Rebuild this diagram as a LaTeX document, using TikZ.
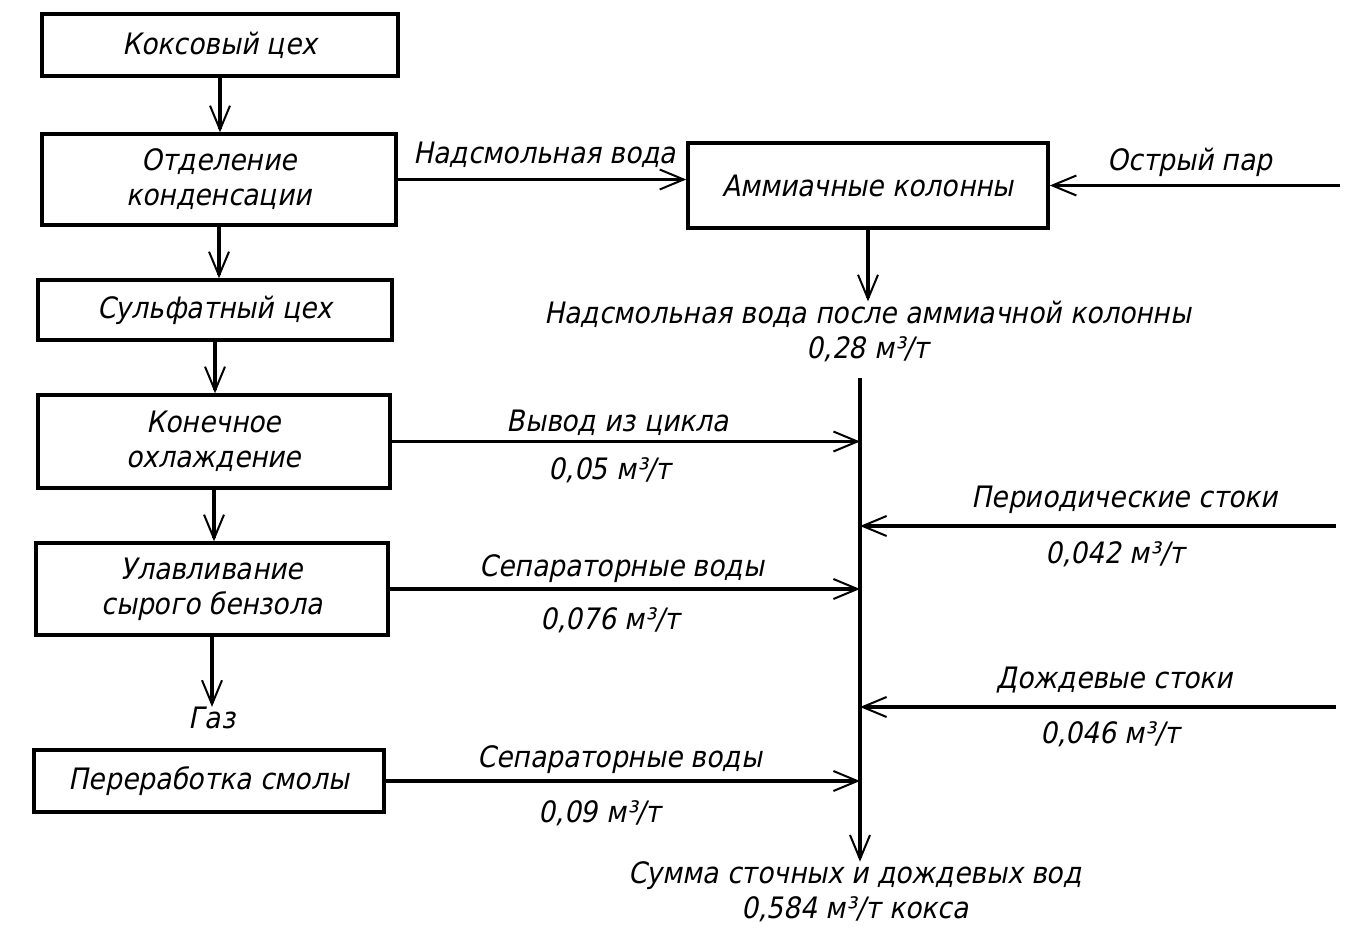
\documentclass[tikz,border=0pt]{standalone}
\usepackage{fontspec}
\setmainfont{DejaVu Sans Condensed}[FakeSlant=0.2]
\usetikzlibrary{arrows.meta}
\begin{document}
\begin{tikzpicture}[x=1pt,y=-1pt,
  every node/.style={font=\fontsize{29.5}{35}\selectfont, align=center, inner sep=0pt},
  box/.style={draw, line width=3.5pt, minimum width=#1},
  flow/.style={line width=3.5pt, -{Straight Barb[length=24pt,width=20pt,line width=2pt]}}]
\useasboundingbox (0,0) rectangle (1364,931);
% process boxes
\node[box=356pt, minimum height=62pt] (b1) at (220,45) {Коксовый цех};
\node[box=354pt, minimum height=91pt] (b2) at (219,179.5) {Отделение\\конденсации};
\node[box=354pt, minimum height=60pt] (b3) at (215,310) {Сульфатный цех};
\node[box=352pt, minimum height=93pt] (b4) at (214,441.5) {Конечное\\охлаждение};
\node[box=352pt, minimum height=92pt] (b5) at (212,589) {Улавливание\\сырого бензола};
\node (gas) at (212,718) {Газ};
\node[box=350pt, minimum height=62pt] (b6) at (209,781) {Переработка смолы};
\node[box=360pt, minimum height=85pt] (b7) at (868,185.5) {Аммиачные колонны};
% vertical chain
\draw[flow] (b1.south) -- (b1.south |- b2.north);
\draw[flow] (b2.south) -- (b2.south |- b3.north);
\draw[flow] (b3.south) -- (b3.south |- b4.north);
\draw[flow] (b4.south) -- (b4.south |- b5.north);
\draw[flow] (b5.south) -- (b5.south |- gas.north);
% top right
\draw[flow] (b2.east) -- (b2.east -| b7.west);
\node (l1) at (545,155) {Надсмольная вода};
\coordinate (steam) at (1340,185.5);
\draw[flow] (steam) -- (b7.east);
\node (l2) at (1190,162) {Острый пар};
\node (l3) at (868,332) {Надсмольная вода после аммиачной колонны\\0,28 м³/т};
\draw[flow] (b7.south) -- (l3.north);
% collector
\coordinate (vtop) at (860,378);
\node (sum) at (855,892) {Сумма сточных и дождевых вод\\0,584 м³/т кокса};
\draw[flow] (vtop) -- (vtop |- sum.north);
% inflows from the left
\draw[flow] (b4.east) -- (b4.east -| vtop);
\node (l4a) at (618,423) {Вывод из цикла};
\node (l4b) at (610,470) {0,05 м³/т};
\draw[flow] (b5.east) -- (b5.east -| vtop);
\node (l5a) at (622,569) {Сепараторные воды};
\node (l5b) at (610,620) {0,076 м³/т};
\draw[flow] (b6.east) -- (b6.east -| vtop);
\node (l6a) at (620,760) {Сепараторные воды};
\node (l6b) at (600,813) {0,09 м³/т};
% inflows from the right
\coordinate (r1) at (1336,526);
\draw[flow] (r1) -- (r1 -| vtop);
\node (l7a) at (1125,500) {Периодические стоки};
\node (l7b) at (1115,554) {0,042 м³/т};
\coordinate (r2) at (1336,707);
\draw[flow] (r2) -- (r2 -| vtop);
\node (l8a) at (1115,680) {Дождевые стоки};
\node (l8b) at (1110,734) {0,046 м³/т};
\end{tikzpicture}
\end{document}
